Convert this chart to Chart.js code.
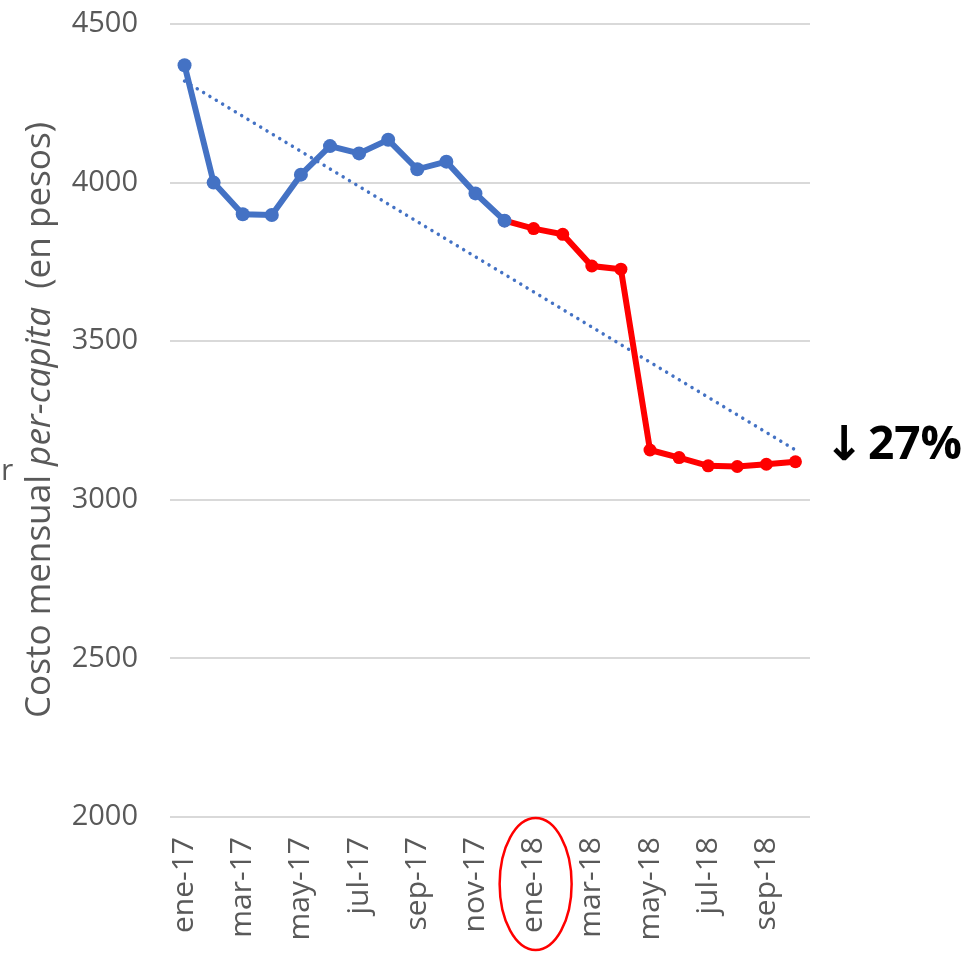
<!DOCTYPE html>
<html>
<head>
<meta charset="utf-8">
<script src="https://cdn.jsdelivr.net/npm/chart.js@4.4.1/dist/chart.umd.min.js"></script>
<style>
  html, body { margin: 0; padding: 0; background: #ffffff; }
  #wrap { width: 970px; height: 954px; position: relative; }
</style>
</head>
<body>
<div id="wrap"><canvas id="c"></canvas></div>
<script>
// ---- Data ----
const months = ['ene-17','feb-17','mar-17','abr-17','may-17','jun-17','jul-17','ago-17','sep-17','oct-17','nov-17','dic-17',
                'ene-18','feb-18','mar-18','abr-18','may-18','jun-18','jul-18','ago-18','sep-18','oct-18'];
const costo2017 = [4370, 4000, 3900, 3898, 4025, 4115, 4092, 4135, 4042, 4066, 3966, 3880,
                   null, null, null, null, null, null, null, null, null, null];
const costo2018 = [null, null, null, null, null, null, null, null, null, null, null, 3880,
                   3855, 3837, 3737, 3727, 3157, 3133, 3107, 3105, 3112, 3120];
const tendencia = [4320, null, null, null, null, null, null, null, null, null, null, null,
                   null, null, null, null, null, null, null, null, null, 3157];
const yTicks = [2000, 2500, 3000, 3500, 4000, 4500];
const yTitleParts = ['Costo mensual ', 'per-capita', '  (en pesos)'];
const cambio = '27%';
const resaltado = 'ene-18';

const BLUE = '#4472C4', RED = '#FF0000', GRAY = '#595959', GRID = '#d9d9d9';
const FONT = '"Open Sans", "Liberation Sans", sans-serif';

const overlay = {
  id: 'overlay',
  afterDraw(chart) {
    const ctx = chart.ctx;
    const xs = chart.scales.x;
    // Y-axis title with italic part, fitted to reference length
    ctx.save();
    const size = 30;
    const fonts = [`${size}px ${FONT}`, `italic ${size}px ${FONT}`, `${size}px ${FONT}`];
    let total = 0;
    const widths = yTitleParts.map((t, i) => { ctx.font = fonts[i]; const w = ctx.measureText(t).width; total += w; return w; });
    const scale = 596 / total;
    ctx.translate(50, 420);
    ctx.rotate(-Math.PI / 2);
    ctx.scale(scale, scale);
    ctx.fillStyle = GRAY;
    ctx.textBaseline = 'alphabetic';
    let x = -total / 2;
    yTitleParts.forEach((t, i) => { ctx.font = fonts[i]; ctx.fillText(t, x, 0); x += widths[i]; });
    ctx.restore();

    // stray small 'r'
    ctx.save();
    ctx.fillStyle = GRAY;
    ctx.font = `30px ${FONT}`;
    ctx.textBaseline = 'alphabetic';
    ctx.fillText('r', 1, 480);
    ctx.restore();

    // ↓27% annotation
    ctx.save();
    ctx.fillStyle = '#000000';
    ctx.textBaseline = 'middle';
    ctx.font = `bold 48px "DejaVu Sans", sans-serif`;
    ctx.fillText('\u2193', 824, 448);
    ctx.font = `bold 46px ${FONT}`;
    ctx.fillText(cambio, 868, 446);
    ctx.restore();

    // red ellipse around ene-18 label
    const idx = months.indexOf(resaltado);
    const cx = xs.getPixelForValue(idx) + 2;
    ctx.save();
    ctx.strokeStyle = RED;
    ctx.lineWidth = 2.5;
    ctx.beginPath();
    ctx.ellipse(cx, 884, 36, 66, 0, 0, Math.PI * 2);
    ctx.stroke();
    ctx.restore();
  }
};

new Chart(document.getElementById('c'), {
  type: 'line',
  data: {
    labels: months,
    datasets: [
      { data: costo2017, borderColor: BLUE, backgroundColor: BLUE, borderWidth: 6,
        pointRadius: 7, pointHoverRadius: 7, pointBorderWidth: 0, tension: 0, order: 1 },
      { data: costo2018, borderColor: RED, backgroundColor: RED, borderWidth: 6,
        pointRadius: 6.5, pointHoverRadius: 6.5, pointBorderWidth: 0, tension: 0, order: 2 },
      { data: tendencia, borderColor: BLUE, borderWidth: 3.5, borderDash: [0.01, 7.4],
        borderCapStyle: 'round', pointRadius: 0, spanGaps: true, tension: 0, order: 3 }
    ]
  },
  options: {
    responsive: true,
    maintainAspectRatio: false,
    animation: false,
    events: [],
    layout: { padding: { left: 0, right: 160, top: 24, bottom: 0 } },
    plugins: { legend: { display: false }, tooltip: { enabled: false } },
    scales: {
      x: {
        type: 'category',
        offset: true,
        grid: { display: false, drawTicks: false },
        border: { display: false },
        ticks: {
          autoSkip: false, minRotation: 90, maxRotation: 90, padding: 20,
          color: GRAY, font: { family: FONT, size: 30 },
          callback: function(v, i) { return i % 2 === 0 ? months[i] : ''; }
        },
        afterFit: function(s) { s.height = 137; s.paddingTop = 0; s.paddingBottom = 0; }
      },
      y: {
        min: 2000, max: 4500,
        afterBuildTicks: function(s) { s.ticks = yTicks.map(v => ({ value: v })); },
        grid: { color: GRID, lineWidth: 2, drawTicks: false },
        border: { display: false },
        ticks: { padding: 32, color: GRAY, font: { family: FONT, size: 29 },
                 callback: function(v) { return String(v); } },
        afterFit: function(s) { s.width = 170; s.paddingTop = 0; s.paddingBottom = 0; }
      }
    }
  },
  plugins: [overlay]
});
</script>
</body>
</html>
